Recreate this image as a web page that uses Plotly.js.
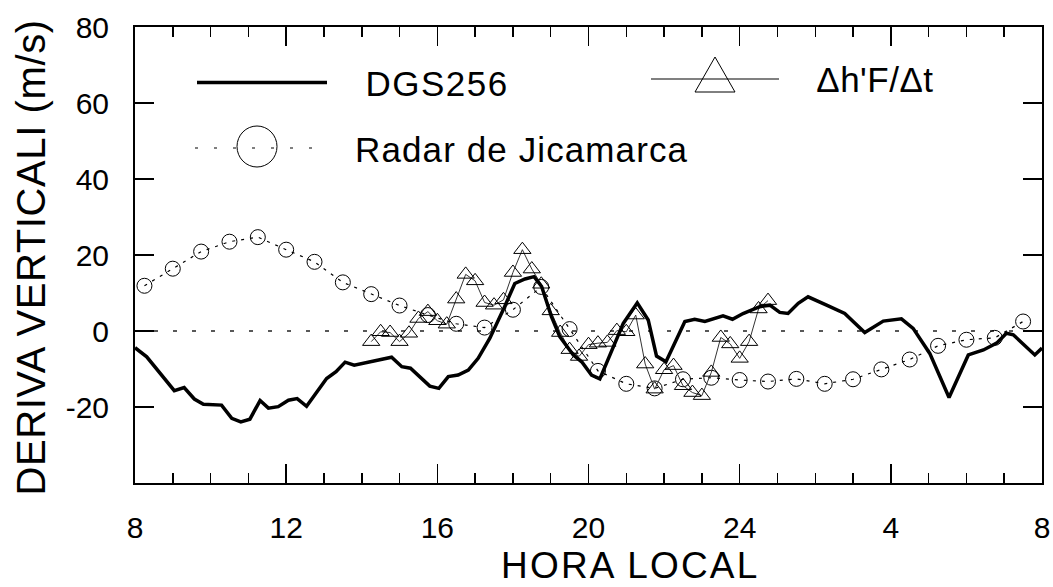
<!DOCTYPE html>
<html>
<head>
<meta charset="utf-8">
<script src="https://cdn.plot.ly/plotly-3.0.1.min.js"></script>
<style>
html,body{margin:0;padding:0;background:#fff;}
#chart{width:1053px;height:587px;}
g.annotation[data-index="0"] text{letter-spacing:1.5px;}
g.annotation[data-index="1"] text{letter-spacing:0.5px;}
g.annotation[data-index="2"] text{letter-spacing:1.1px;}
g.annotation[data-index="3"] text{letter-spacing:2.2px;}
g.annotation[data-index="4"] text{letter-spacing:0.6px;}
</style>
</head>
<body>
<div id="chart"></div>
<script>
// ---- data (hours after midnight of day 1; 24..32 = 0..8 next day) ----
const dgsHour = [8.0, 8.31, 9.04, 9.30, 9.57, 9.81, 10.29, 10.56, 10.80, 11.04, 11.31, 11.53, 11.79, 12.06, 12.29, 12.54,
  13.07, 13.32, 13.56, 13.80, 14.79, 15.06, 15.29, 15.80, 16.04, 16.29, 16.55, 16.82, 17.08, 17.39, 17.74, 18.05,
  18.32, 18.56, 18.76, 19.02, 19.24, 19.60, 19.82, 20.08, 20.30, 20.92, 21.29, 21.58, 21.80, 22.05, 22.55, 22.81,
  23.08, 23.30, 23.56, 23.81, 24.09, 24.53, 24.80, 25.06, 25.28, 25.55, 25.81, 26.30, 26.78, 27.31, 27.80, 28.28,
  28.59, 29.03, 29.54, 30.05, 30.45, 30.80, 31.06, 31.24, 31.81, 32.0];
const dgsVel = [-4.4, -6.8, -15.7, -14.9, -17.9, -19.3, -19.5, -23.0, -23.9, -23.2, -18.3, -20.3, -19.9, -18.2, -17.8, -19.8,
  -12.5, -10.7, -8.2, -9.0, -6.9, -9.4, -9.8, -14.5, -15.1, -12.0, -11.6, -10.3, -7.2, -1.9, 5.5, 12.5,
  13.7, 14.3, 11.7, 3.8, -1.5, -6.3, -8.1, -11.6, -12.6, 2.0, 7.4, 2.9, -6.6, -8.1, 2.5, 3.1,
  2.5, 3.1, 4.0, 3.1, 4.6, 6.4, 6.8, 4.9, 4.6, 7.3, 9.0, 6.8, 4.6, -0.4, 2.6, 3.2,
  0.7, -5.9, -17.5, -6.3, -5.0, -3.2, -0.6, -1.0, -6.3, -4.5];

const radarHour = [8.25, 9.0, 9.75, 10.5, 11.25, 12.0, 12.75, 13.5, 14.25, 15.0, 15.75, 16.5, 17.25, 18.0, 18.75, 19.5,
  20.25, 21.0, 21.75, 22.5, 23.25, 24.0, 24.75, 25.5, 26.25, 27.0, 27.75, 28.5, 29.25, 30.0, 30.75, 31.5];
const radarVel = [11.9, 16.4, 20.9, 23.5, 24.7, 21.4, 18.2, 12.8, 9.7, 6.7, 4.2, 1.9, 0.9, 5.6, 11.6, 0.5,
  -10.5, -13.9, -15.1, -12.7, -12.3, -12.9, -13.3, -12.6, -13.9, -12.7, -10.1, -7.5, -3.9, -2.3, -1.8, 2.5];

const ionoHour = [14.25, 14.5, 14.75, 15.0, 15.25, 15.5, 15.75, 16.0, 16.25, 16.5, 16.75, 17.0, 17.25, 17.5, 17.75, 18.0,
  18.25, 18.5, 18.75, 19.0, 19.25, 19.5, 19.75, 20.0, 20.25, 20.5, 20.75, 21.0, 21.25, 21.5, 21.75, 22.0,
  22.25, 22.5, 22.75, 23.0, 23.25, 23.5, 23.75, 24.0, 24.25, 24.5, 24.75];
const ionoVel = [-2.8, -0.2, -0.4, -2.8, -0.6, 3.3, 5.1, 2.7, 1.8, 8.4, 14.9, 13.2, 7.5, 6.8, 8.2, 15.4,
  21.4, 16.3, 12.3, 5.3, -0.4, -4.9, -6.7, -3.6, -3.2, -3.0, 0.1, -0.2, 4.2, -8.7, -15.3, -10.2,
  -9.1, -14.4, -16.2, -17.0, -10.9, -1.7, -3.4, -7.2, -2.8, 5.8, 8.0];

const xTickVals = [8, 12, 16, 20, 24, 28, 32];
const xTickText = ['8', '12', '16', '20', '24', '4', '8'];
const yTickVals = [-20, 0, 20, 40, 60, 80];
const yTickText = ['-20', '0', '20', '40', '60', '80'];

const seriesNames = ['DGS256', 'Radar de Jicamarca', '\u0394h\'F/\u0394t'];
const xTitle = 'HORA LOCAL';
const yTitle = 'DERIVA VERTICALI (m/s)';

// ---- layout geometry (pixels) ----
const W = 1053, H = 587, L = 135, R = 1042, T = 27, B = 483;
const px = x => (x - L) / (R - L);
const py = y => (B - y) / (B - T);
const FONT = '"Liberation Sans", Arial, Helvetica, sans-serif';

const traces = [
  {
    x: radarHour, y: radarVel, name: seriesNames[1], type: 'scatter', mode: 'lines+markers',
    line: {color: '#000', width: 1.2, dash: '3px,6px'},
    marker: {symbol: 'circle-open', size: 15, color: '#000', line: {width: 1}},
    showlegend: false
  },
  {
    x: ionoHour, y: ionoVel, name: seriesNames[2], type: 'scatter', mode: 'lines+markers',
    line: {color: '#333', width: 1},
    marker: {symbol: 'triangle-up-open', size: 15, color: '#000', line: {width: 1}},
    showlegend: false
  },
  {
    x: dgsHour, y: dgsVel, name: seriesNames[0], type: 'scatter', mode: 'lines',
    line: {color: '#000', width: 3.5},
    showlegend: false
  }
];

const shapes = [
  {type: 'line', xref: 'paper', yref: 'y', x0: 0, x1: 1, y0: 0, y1: 0, layer: 'below',
   line: {color: '#222', width: 1.5, dash: '4px,15px'}},
  // legend: DGS256
  {type: 'line', xref: 'paper', yref: 'paper', x0: px(197), x1: px(327), y0: py(82.5), y1: py(82.5),
   line: {color: '#000', width: 3.5}},
  // legend: Δh'F/Δt
  {type: 'line', xref: 'paper', yref: 'paper', x0: px(651), x1: px(779), y0: py(79), y1: py(79),
   line: {color: '#808080', width: 2}},
  {type: 'path', xref: 'paper', yref: 'paper',
   path: 'M' + px(695) + ',' + py(92) + ' L' + px(735) + ',' + py(92) + ' L' + px(715) + ',' + py(57) + ' Z',
   line: {color: '#000', width: 1}},
  // legend: Radar
  {type: 'line', xref: 'paper', yref: 'paper', x0: px(195), x1: px(322), y0: py(148), y1: py(148),
   line: {color: '#000', width: 1.2, dash: '3px,16px'}},
  {type: 'circle', xref: 'paper', yref: 'paper', x0: px(237), x1: px(277), y0: py(167), y1: py(126),
   line: {color: '#000', width: 1}}
];

const annotations = [
  {text: seriesNames[0], xref: 'paper', yref: 'paper', x: px(368), y: py(83), xanchor: 'left', yanchor: 'middle',
   showarrow: false, font: {family: FONT, size: 35, color: '#000'}},
  {text: seriesNames[2], xref: 'paper', yref: 'paper', x: px(816), y: py(80), xanchor: 'left', yanchor: 'middle',
   showarrow: false, font: {family: FONT, size: 35, color: '#000'}},
  {text: seriesNames[1], xref: 'paper', yref: 'paper', x: px(363), y: py(149), xanchor: 'left', yanchor: 'middle',
   showarrow: false, font: {family: FONT, size: 35, color: '#000'}},
  {text: xTitle, xref: 'paper', yref: 'paper', x: px(630), y: py(587), xanchor: 'center', yanchor: 'bottom',
   borderpad: 0, showarrow: false, font: {family: FONT, size: 37, color: '#000'}},
  {text: yTitle, xref: 'paper', yref: 'paper', x: px(31), y: py(258), xanchor: 'center', yanchor: 'middle',
   textangle: -90, showarrow: false, font: {family: FONT, size: 40, color: '#000'}}
];

const axisCommon = {
  ticks: 'inside', ticklen: 19, tickwidth: 1.5, tickcolor: '#000',
  showline: true, linecolor: '#000', linewidth: 2, mirror: 'allticks',
  showgrid: false, zeroline: false,
  tickfont: {family: FONT, size: 30, color: '#000'}
};

const layout = {
  width: W, height: H,
  margin: {l: L, r: W - R, t: T, b: H - B, pad: 0},
  paper_bgcolor: '#fff', plot_bgcolor: '#fff',
  showlegend: false,
  xaxis: Object.assign({}, axisCommon, {
    range: [8, 32], tickmode: 'array', tickvals: xTickVals, ticktext: xTickText,
    ticklabelstandoff: 17,
    minor: {tickmode: 'linear', tick0: 8, dtick: 1, ticks: 'inside', ticklen: 10, tickwidth: 1.5, tickcolor: '#000', showgrid: false}
  }),
  yaxis: Object.assign({}, axisCommon, {
    range: [-40, 80], tickmode: 'array', tickvals: yTickVals, ticktext: yTickText,
    ticklabelstandoff: 18
  }),
  shapes: shapes,
  annotations: annotations
};

Plotly.newPlot('chart', traces, layout, {staticPlot: true, displayModeBar: false});
</script>
</body>
</html>
